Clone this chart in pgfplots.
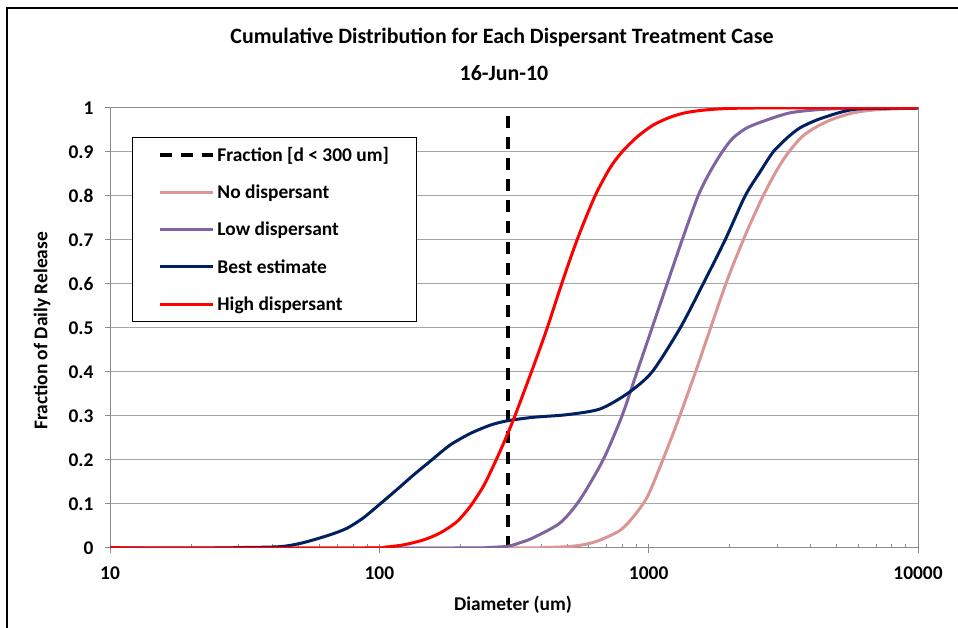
\documentclass[border=0pt]{standalone}
\usepackage{pgfplots}
\pgfplotsset{compat=1.18}
\usepackage{fontspec}
\setmainfont{Carlito}
\definecolor{cPink}{HTML}{D99694}
\definecolor{cPurple}{HTML}{8064A2}
\definecolor{cNavy}{HTML}{002060}
\definecolor{cRed}{HTML}{FF0000}
\begin{document}
\begin{tikzpicture}[x=1bp,y=1bp]
\useasboundingbox (0,0) rectangle (958,628);
\draw[line width=2.5bp] (7,0) -- (7,620) -- (958,620);
\begin{axis}[
  at={(110bp,80bp)}, anchor=south west,
  scale only axis, width=808bp, height=440bp,
  xmode=log, xmin=10, xmax=10000, ymin=0, ymax=1,
  xtick={10,100,1000,10000}, xticklabels={10,100,1000,10000},
  ytick={0,0.1,0.2,0.3,0.4,0.5,0.6,0.7,0.8,0.9,1},
  yticklabels={0,0.1,0.2,0.3,0.4,0.5,0.6,0.7,0.8,0.9,1},
  xtick pos=bottom, ytick pos=left,
  ticklabel style={font=\bfseries\fontsize{19.5}{21}\selectfont},
  xticklabel style={yshift=-10bp},
  yticklabel style={xshift=-8bp},
  axis line style={draw=black!45, line width=1bp},
  ymajorgrids, grid style={draw=black!35, line width=1bp},
  tick align=outside, major tick length=5bp, minor tick length=4bp,
  tick style={draw=black!45, line width=1bp},
  minor tick style={yshift=4bp},
  legend style={at={(0.0272,0.934)}, anchor=north west, draw=black, line width=1bp,
    font=\bfseries\fontsize{19.5}{21}\selectfont, row sep=18bp,
    inner xsep=26bp, inner ysep=8bp, cells={anchor=west}},
  legend image code/.code={\draw[#1] (0bp,0bp) -- (53bp,0bp);},
]
\addplot[black, line width=4bp, dash pattern=on 12bp off 9bp] coordinates {(300,0) (300,1)};
\addlegendentry{Fraction [d < 300 um]}
\addplot[cPink, line width=3bp, smooth, tension=0.45] coordinates {
(10,0) (300,0) (400,0.001) (498,0.003) (580,0.008) (660,0.018) (783,0.04) (875,0.07)
(986,0.115) (1103,0.185) (1232,0.26) (1331,0.315) (1512,0.41) (1719,0.51) (1960,0.61)
(2280,0.71) (2659,0.80) (2999,0.86) (3293,0.898) (3712,0.935) (4220,0.958) (4840,0.975)
(5741,0.989) (7047,0.996) (10000,1)};
\addlegendentry{No dispersant}
\addplot[cPurple, line width=3bp, smooth, tension=0.45] coordinates {
(10,0) (200,0) (250,0.001) (300,0.004) (333,0.012) (372,0.023) (469,0.057) (556,0.11)
(677,0.2) (796,0.30) (905,0.40) (1029,0.50) (1170,0.60) (1331,0.70) (1525,0.80)
(1690,0.855) (1874,0.90) (2058,0.932) (2318,0.955) (2753,0.973) (3350,0.989) (4220,0.996)
(5500,0.999) (10000,1)};
\addlegendentry{Low dispersant}
\addplot[cNavy, line width=3bp, smooth, tension=0.45] coordinates {
(10,0) (25,0) (30.4,0.001) (42.8,0.003) (52.1,0.012) (65.6,0.03) (75.9,0.045) (87,0.068)
(100.6,0.1) (116.3,0.133) (133.4,0.165) (154.3,0.197) (183.1,0.234) (217.2,0.26)
(257.6,0.279) (298,0.289) (372,0.297) (498,0.303) (660,0.316) (838,0.352) (1029,0.40)
(1309,0.50) (1592,0.60) (1922,0.70) (2280,0.80) (2593,0.855) (2898,0.90) (3266,0.932)
(3648,0.955) (4220,0.973) (5140,0.99) (6095,0.998) (10000,1)};
\addlegendentry{Best estimate}
\addplot[cRed, line width=3bp, smooth, tension=0.45] coordinates {
(10,0) (90,0) (105,0.002) (122.5,0.007) (145.3,0.018) (168,0.034) (194.3,0.06)
(217.2,0.094) (242.7,0.139) (264.4,0.185) (285.5,0.23) (300.6,0.262) (320,0.303)
(372,0.41) (420,0.50) (475,0.60) (542,0.70) (632,0.80) (719,0.864) (796,0.90)
(905,0.934) (1038,0.961) (1201,0.979) (1389,0.99) (1734,0.997) (2500,1) (10000,1)};
\addlegendentry{High dispersant}
\end{axis}
\node[font=\bfseries\fontsize{22}{26}\selectfont] at (502,590) {Cumulative Distribution for Each Dispersant Treatment Case};
\node[font=\bfseries\fontsize{22}{26}\selectfont] at (504,555) {16-Jun-10};
\node[font=\bfseries\fontsize{19.5}{22}\selectfont, rotate=90] at (42,297) {Fraction of Daily Release};
\node[font=\bfseries\fontsize{19.5}{22}\selectfont] at (513,23) {Diameter (um)};
\end{tikzpicture}
\end{document}
